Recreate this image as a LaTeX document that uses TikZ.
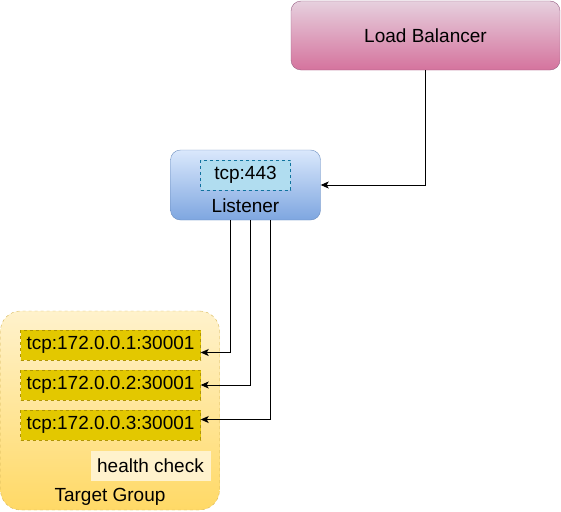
\documentclass[tikz,border=0pt]{standalone}
\usepackage{fontspec}
\setmainfont{Liberation Sans}
\usetikzlibrary{arrows.meta}
\definecolor{lbtop}{HTML}{E6D0DE}
\definecolor{lbbot}{HTML}{D5739D}
\definecolor{lbline}{HTML}{996185}
\definecolor{lstop}{HTML}{DAE8FC}
\definecolor{lsbot}{HTML}{7EA6E0}
\definecolor{lsline}{HTML}{6C8EBF}
\definecolor{porfill}{HTML}{B1DDF0}
\definecolor{porline}{HTML}{10739E}
\definecolor{tgtop}{HTML}{FFF2CC}
\definecolor{tgbot}{HTML}{FFD966}
\definecolor{tgline}{HTML}{D6B656}
\definecolor{tfill}{HTML}{E3C800}
\definecolor{tline}{HTML}{B09500}
\begin{document}
\begin{tikzpicture}[x=1pt, y=-1pt,
    every node/.style={font=\fontsize{19}{22}\selectfont, inner sep=0pt},
    targetbox/.style={rectangle, fill=tfill, draw=tline, dashed, minimum width=180pt, minimum height=30pt},
    conn/.style={draw=black, line width=0.9pt, -{Stealth[length=8pt, width=7pt, inset=2pt]}}]

            \useasboundingbox (0,0) rectangle (561,511);

            \node[shape=rectangle, rounded corners=10pt, top color=lbtop, bottom color=lbbot, draw=lbline, minimum width=269pt, minimum height=69pt] (LB) at (425.5,35.5) {Load Balancer};
            \node[shape=rectangle, rounded corners=10pt, top color=lstop, bottom color=lsbot, draw=lsline, minimum width=150pt, minimum height=70pt] (LS) at (245.5,185) {};
            \node[shape=rectangle, fill=porfill, draw=porline, dashed, minimum width=90pt, minimum height=30pt] (P443) at (245.5,175) {tcp:443};
            \node (LSlabel) at (245.5,206) {Listener};

            \node[shape=rectangle, rounded corners=20pt, top color=tgtop, bottom color=tgbot, draw=tgline, dashed, minimum width=219pt, minimum height=199pt] (TG) at (110,410.5) {};
            \node[targetbox] (T1) at (110.5,345) {tcp:172.0.0.1:30001};
            \node[targetbox] (T2) at (110.5,385) {tcp:172.0.0.2:30001};
            \node[targetbox] (T3) at (110.5,425) {tcp:172.0.0.3:30001};
            \node[shape=rectangle, fill=tgtop, minimum width=120pt, minimum height=30pt] (HC) at (150.5,466) {health check};
            \node (TGlabel) at (110,497) {Target Group};

            \path[conn] (LB.south) |- (LS.east);
            \path[conn] ([xshift=-15pt]LS.south) |- ([yshift=-7.5pt]T1.east);
            \path[conn] ([xshift=5pt]LS.south) |- (T2.east);
            \path[conn] ([xshift=25pt]LS.south) |- ([yshift=5.5pt]T3.east);
        \end{tikzpicture}
\end{document}
